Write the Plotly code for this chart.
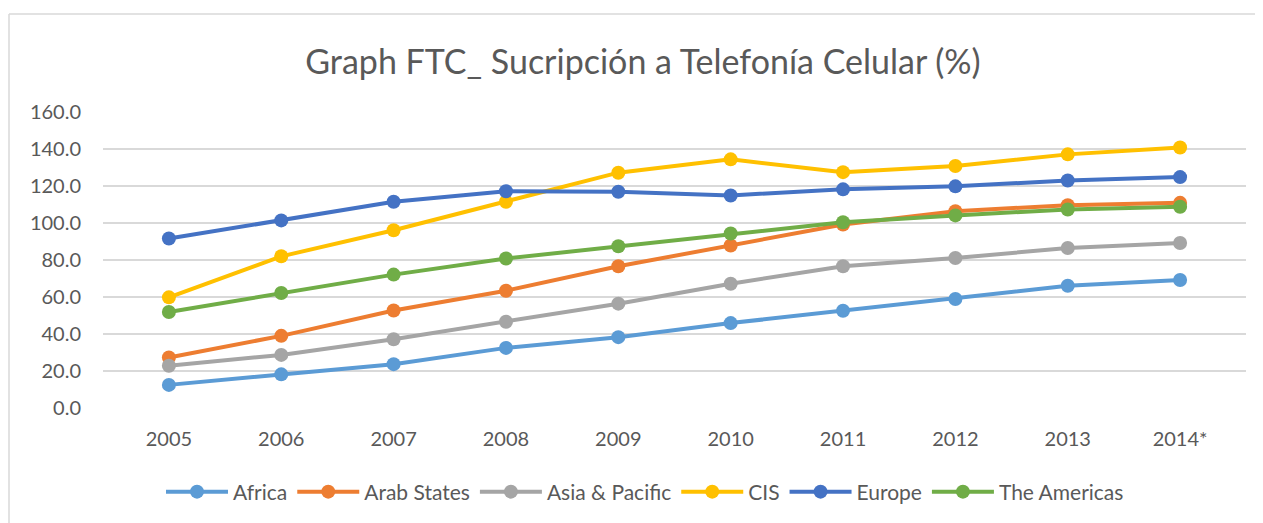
import plotly.graph_objects as go

years = ["2005", "2006", "2007", "2008", "2009", "2010", "2011", "2012", "2013", "2014*"]

africa = [12.5, 18.2, 23.7, 32.5, 38.3, 45.9, 52.6, 58.9, 66.1, 69.2]
arab_states = [27.3, 39.0, 52.7, 63.4, 76.6, 87.8, 99.2, 106.4, 109.6, 110.9]
asia_pacific = [22.8, 28.7, 37.2, 46.6, 56.4, 67.2, 76.6, 81.1, 86.5, 89.2]
cis = [59.8, 82.0, 96.1, 111.5, 127.2, 134.4, 127.5, 130.8, 137.1, 140.8]
europe = [91.6, 101.4, 111.5, 117.2, 116.9, 114.9, 118.2, 119.8, 123.0, 124.8]
americas = [51.9, 62.2, 72.1, 80.8, 87.4, 94.3, 100.4, 104.1, 107.3, 108.8]

series = [
    ("Africa", africa, "#5B9BD5"),
    ("Arab States", arab_states, "#ED7D31"),
    ("Asia & Pacific", asia_pacific, "#A5A5A5"),
    ("CIS", cis, "#FFC000"),
    ("Europe", europe, "#4472C4"),
    ("The Americas", americas, "#70AD47"),
]

text_color = "#595959"
border_color = "#D9D9D9"
font_family = "Lato, Carlito, Calibri, sans-serif"

# page body has an 8px margin, so the figure is laid out 8px up/left
off = 8
W, H = 1263, 523
plot_left, plot_right = 103 - off, 1246 - off
plot_top, plot_bottom = 112 - off, 408 - off
plot_w = plot_right - plot_left
plot_h = plot_bottom - plot_top

border_x = (9 - off - plot_left) / plot_w
border_y = (plot_bottom - (14 - off)) / plot_h

fig = go.Figure()
for name, values, color in series:
    fig.add_trace(
        go.Scatter(
            x=years,
            y=values,
            mode="lines+markers",
            name=name,
            line=dict(color=color, width=4),
            marker=dict(color=color, size=14),
        )
    )

fig.update_layout(
    width=W,
    height=H,
    plot_bgcolor="white",
    paper_bgcolor="white",
    font=dict(family=font_family, color=text_color, size=20),
    title=dict(
        text="Graph FTC_ Sucripción a Telefonía Celular (%)",
        x=(643 - off) / W,
        xanchor="center",
        y=1 - (62 - off) / H,
        yanchor="middle",
        yref="container",
        font=dict(size=34, color=text_color, family=font_family),
    ),
    margin=dict(l=plot_left, r=W - plot_right, t=plot_top, b=H - plot_bottom),
    legend=dict(
        orientation="h",
        x=(645 - off - plot_left) / plot_w,
        xanchor="center",
        y=(plot_bottom - (492 - off)) / plot_h,
        yanchor="middle",
        font=dict(size=21, color=text_color),
        itemwidth=62,
    ),
    xaxis=dict(
        type="category",
        showgrid=False,
        showline=False,
        ticks="",
        ticklabelstandoff=17,
        tickfont=dict(size=20, color=text_color),
    ),
    yaxis=dict(
        range=[0, 160],
        dtick=20,
        tickformat=".1f",
        showgrid=True,
        gridcolor=border_color,
        gridwidth=1.5,
        zeroline=False,
        showline=False,
        ticklabelstandoff=21,
        tickfont=dict(size=20, color=text_color),
    ),
    shapes=[
        dict(
            type="line",
            xref="paper",
            yref="paper",
            x0=border_x,
            x1=1.3,
            y0=border_y,
            y1=border_y,
            line=dict(color=border_color, width=1.5),
            layer="below",
        ),
        dict(
            type="line",
            xref="paper",
            yref="paper",
            x0=border_x,
            x1=border_x,
            y0=-1.0,
            y1=border_y,
            line=dict(color=border_color, width=1.5),
            layer="below",
        ),
    ],
)

fig.write_html("out.html")
